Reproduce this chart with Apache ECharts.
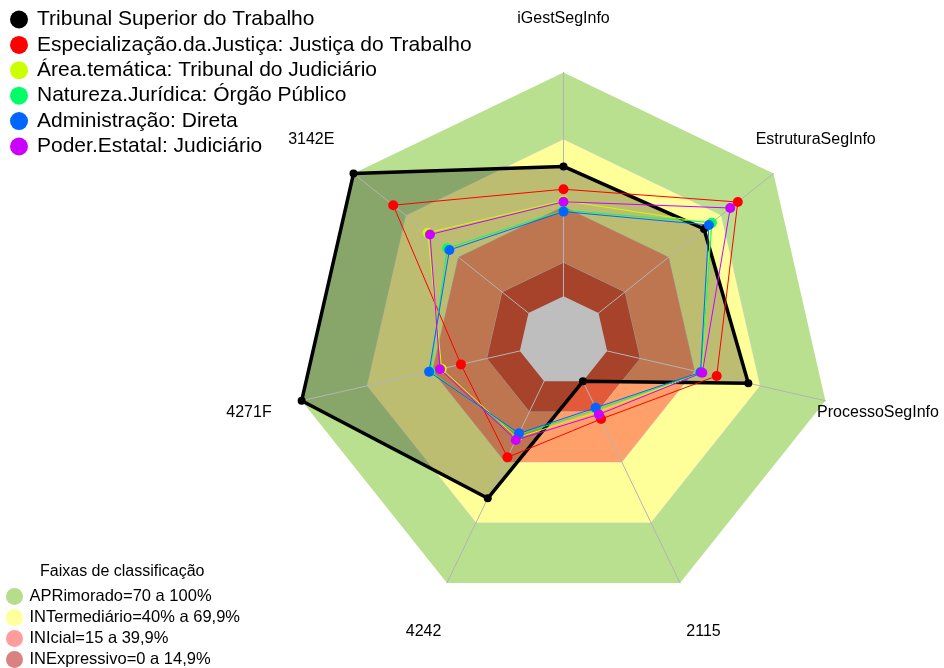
<!DOCTYPE html>
<html>
<head>
<meta charset="utf-8">
<script src="https://cdn.jsdelivr.net/npm/echarts@6/dist/echarts.min.js"></script>
<style>
  html, body { margin: 0; padding: 0; background: #fff; }
  #chart { width: 944px; height: 668px; }
</style>
</head>
<body>
<div id="chart"></div>
<script>
// eixos na ordem em que o ECharts os desenha (anti-horário a partir do topo)
const categories = ['iGestSegInfo', '3142E', '4271F', '4242', '2115', 'ProcessoSegInfo', 'EstruturaSegInfo']

const seriesNames = [
  'Tribunal Superior do Trabalho',
  'Especialização.da.Justiça: Justiça do Trabalho',
  'Área.temática: Tribunal do Judiciário',
  'Natureza.Jurídica: Órgão Público',
  'Administração: Direta',
  'Poder.Estatal: Judiciário'
]
const seriesColors = ['#000000', '#ff0000', '#ccff00', '#00ff66', '#0066ff', '#cc00ff']

const tst = [58, 100, 100, 58, 0, 64.7, 60.3]
const especializacao = [47.8, 77.3, 27, 37.7, 18.7, 50.2, 79.6]
const areaTematica = [42.7, 57.6, 35.8, 28, 15.2, 43.3, 64.3]
const natureza = [38.4, 46.5, 41, 26.5, 14, 43, 64.8]
const administracao = [37.8, 45.2, 41.6, 25.8, 13.1, 42.8, 63.1]
const poder = [42.2, 56.3, 36.6, 29.1, 16.4, 43.6, 75.3]
const seriesValues = [tst, especializacao, areaTematica, natureza, administracao, poder]

// faixas de classificação (limite superior de cada faixa)
const bandNames = ['APRimorado=70 a 100%', 'INTermediário=40% a 69,9%', 'INIcial=15 a 39,9%', 'INExpressivo=0 a 14,9%']
const bandLimits = [100, 70, 40, 15]
const bandFill = ['#b8e08f', '#ffff99', '#ffa06b', '#e25a3a']
const bandLegendColors = ['#b6dd8b', '#ffff9c', '#ff9c9c', '#d98282']
const axisMin = -20
const axisMax = 100

const font = '"Liberation Sans", Arial, sans-serif'

const chart = echarts.init(document.getElementById('chart'))

const flat = (v) => categories.map(() => v)

const series = []

// faixas de fundo
bandLimits.forEach((lim, i) => {
  series.push({
    type: 'radar',
    name: bandNames[i],
    z: 1,
    silent: true,
    symbol: 'none',
    color: bandLegendColors[i],
    lineStyle: { width: i === 0 ? 0 : 1, color: '#d6d6d6' },
    areaStyle: { color: bandFill[i], opacity: 1 },
    data: [{ value: flat(lim) }]
  })
})

// sombreado do TST
series.push({
  type: 'radar',
  name: 'tstArea',
  z: 1,
  silent: true,
  symbol: 'none',
  lineStyle: { width: 0 },
  areaStyle: { color: 'rgba(0,0,0,0.26)', opacity: 1 },
  data: [{ value: tst }]
})

// miolo cinza (abaixo de 0)
series.push({
  type: 'radar',
  name: 'centro',
  z: 3,
  silent: true,
  symbol: 'none',
  lineStyle: { width: 0 },
  areaStyle: { color: '#bebebe', opacity: 1 },
  data: [{ value: flat(0) }]
})

seriesValues.forEach((vals, i) => {
  series.push({
    type: 'radar',
    name: seriesNames[i],
    z: 4 + i,
    symbol: 'circle',
    symbolSize: i === 0 ? 8 : 10,
    color: seriesColors[i],
    itemStyle: { color: seriesColors[i] },
    lineStyle: { color: seriesColors[i], width: i === 0 ? 3.5 : 1, opacity: 1 },
    data: [{ value: vals }]
  })
})

const option = {
  animation: false,
  textStyle: { fontFamily: font },
  title: {
    text: 'Faixas de classificação',
    left: 40,
    top: 564,
    padding: 0,
    textStyle: { fontFamily: font, fontSize: 16, fontWeight: 'normal', color: '#000' }
  },
  legend: [
    {
      data: seriesNames.map((n, i) => ({ name: n, itemStyle: { color: seriesColors[i], borderWidth: 0 } })),
      orient: 'vertical',
      left: 10,
      top: 9,
      padding: 0,
      icon: 'circle',
      itemWidth: 18,
      itemHeight: 18,
      itemGap: 4.4,
      selectedMode: false,
      textStyle: { fontFamily: font, fontSize: 21, color: '#000', padding: [0, 0, 0, 4] }
    },
    {
      data: bandNames.map((n, i) => ({ name: n, itemStyle: { color: bandLegendColors[i], borderWidth: 0 } })),
      orient: 'vertical',
      left: 6,
      top: 588,
      height: 100,
      padding: 0,
      icon: 'circle',
      itemWidth: 17,
      itemHeight: 17,
      itemGap: 4,
      selectedMode: false,
      textStyle: { fontFamily: font, fontSize: 16.5, color: '#000', padding: [0, 0, 0, 1.5] }
    }
  ],
  radar: {
    center: [563.5, 341],
    radius: 268.6,
    startAngle: 90,
    splitNumber: 6,
    z: 2,
    indicator: categories.map((c) => ({ name: c, min: axisMin, max: axisMax })),
    axisName: { color: '#000', fontSize: 16, fontFamily: font, align: 'center', verticalAlign: 'middle' },
    nameGap: 54,
    axisLine: { show: true, lineStyle: { color: '#b4b4b4', width: 1 } },
    axisTick: { show: false },
    axisLabel: { show: false },
    splitLine: { show: false },
    splitArea: { show: false }
  },
  series: series
}

chart.setOption(option)
</script>
</body>
</html>
